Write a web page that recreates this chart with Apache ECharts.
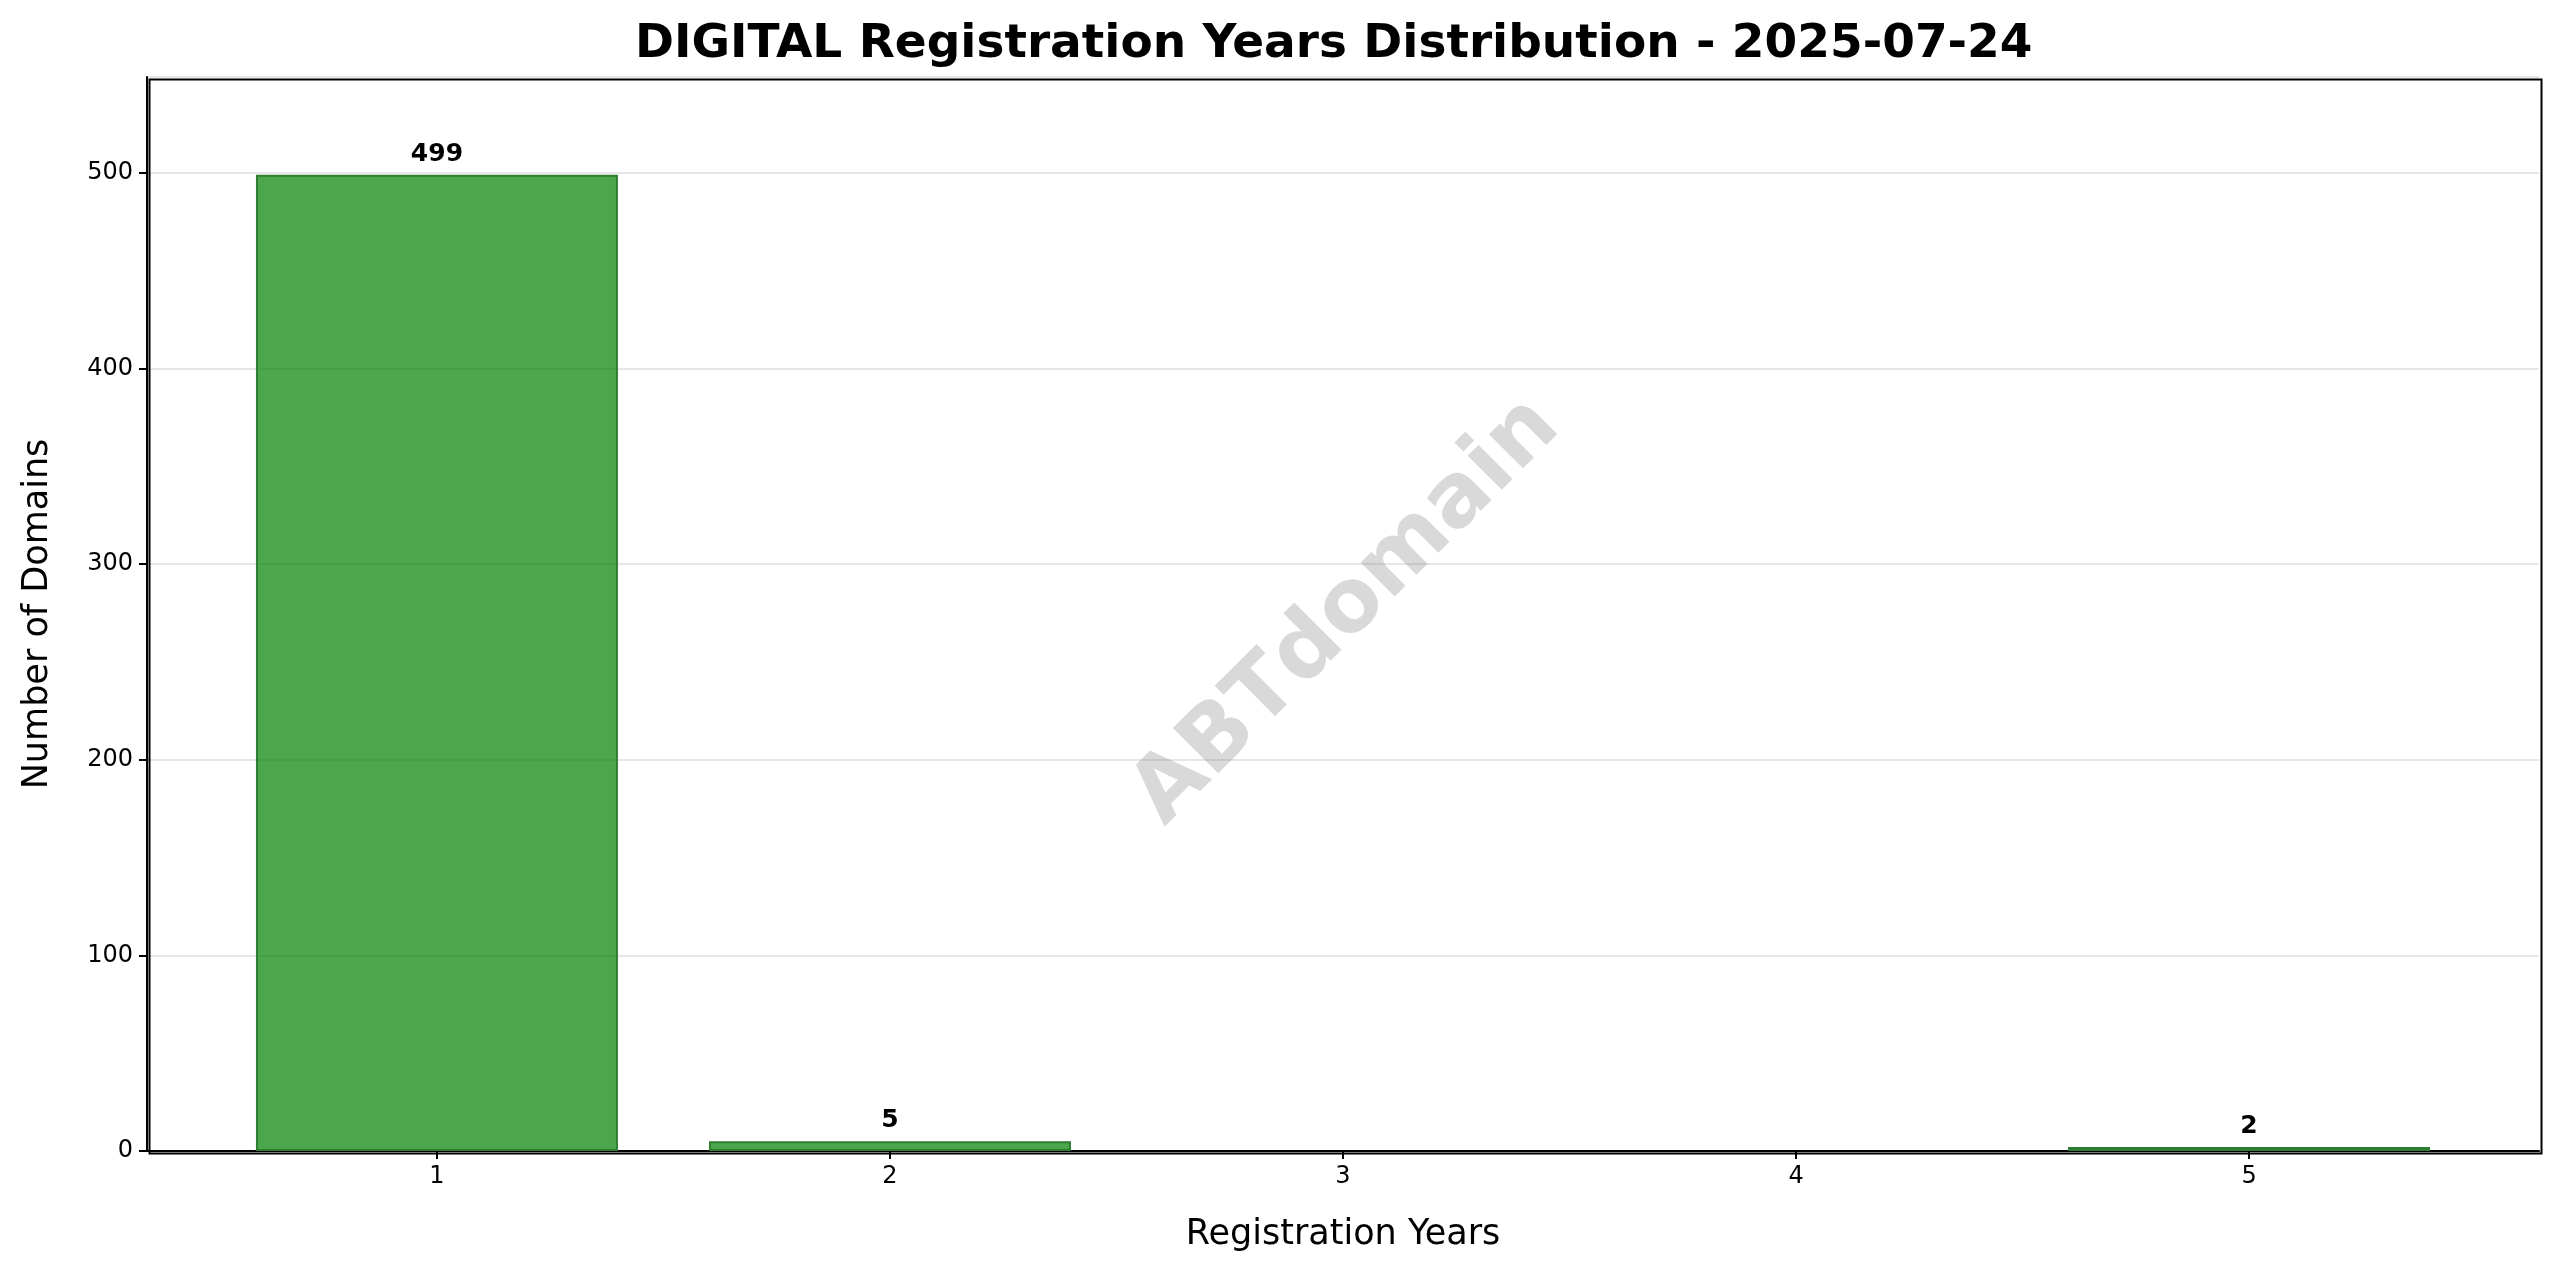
<!DOCTYPE html>
<html><head><meta charset="utf-8">
<script src="https://cdn.jsdelivr.net/npm/echarts@6/dist/echarts.min.js"></script>
<style>html,body{margin:0;padding:0;background:#fff}#c{width:2560px;height:1271px}</style>
</head><body><div id="c"></div>
<script>
const years = [1, 2, 3, 4, 5];
const counts = [499, 5, 0, 0, 2];
const yTicks = [0, 100, 200, 300, 400, 500];
const chart = echarts.init(document.getElementById('c'));
const font = 'DejaVu Sans';
chart.setOption({
  animation: false,
  title: { text: 'DIGITAL Registration Years Distribution - 2025-07-24', left: 630, top: 16,
    textStyle: { fontFamily: font, fontWeight: 'bold', fontSize: 47, color: '#000' } },
  grid: { left: 147, right: 21, top: 77, bottom: 120, containLabel: false },
  xAxis: { type: 'value', min: 0.36, max: 5.64, splitNumber: 5,
    name: 'Registration Years', nameLocation: 'middle', nameGap: 66,
    nameTextStyle: { fontFamily: font, fontSize: 35, color: '#000' },
    axisLine: { show: true, lineStyle: { color: '#000', width: 2 } },
    axisTick: { show: true, length: 8, lineStyle: { color: '#000', width: 2 } },
    axisLabel: { fontFamily: font, fontSize: 24, color: '#000', margin: 14, showMinLabel: false, showMaxLabel: false,
      formatter: v => years.includes(v) ? String(v) : '' },
    splitLine: { show: false } },
  yAxis: { type: 'value', min: 0, max: 549, interval: 100,
    name: 'Number of Domains', nameLocation: 'middle', nameGap: 92,
    nameTextStyle: { fontFamily: font, fontSize: 35, color: '#000' },
    axisLine: { show: true, lineStyle: { color: '#000', width: 2 } },
    axisTick: { show: true, length: 8, lineStyle: { color: '#000', width: 2 } },
    axisLabel: { fontFamily: font, fontSize: 24, color: '#000', margin: 14, showMaxLabel: false,
      formatter: v => yTicks.includes(v) ? String(v) : '' },
    splitLine: { show: true, lineStyle: { color: '#e6e6e6', width: 2 } } },
  graphic: [
    { type: 'rect', left: 147, top: 77, shape: { width: 2392, height: 1074 }, style: { fill: 'none', stroke: '#000', lineWidth: 2 }, silent: true, z: 10 },
    { type: 'text', x: 1347, y: 612, rotation: Math.PI/4, z: 20,
      style: { text: 'ABTdomain', fontFamily: font, fontWeight: 'bold', fontSize: 88, fill: 'rgba(128,128,128,0.3)', align: 'center', verticalAlign: 'middle' } }
  ],
  series: [{
    type: 'bar', barWidth: 362,
    data: years.map((y, i) => [y, counts[i]]).filter(d => d[1] > 0),
    itemStyle: { color: 'rgba(0,128,0,0.7)', borderColor: '#2e7d32', borderWidth: 2 },
    label: { show: true, position: 'top', distance: 8, fontFamily: font, fontWeight: 'bold', fontSize: 25, color: '#000', formatter: p => p.value[1] }
  }]
});
</script></body></html>
